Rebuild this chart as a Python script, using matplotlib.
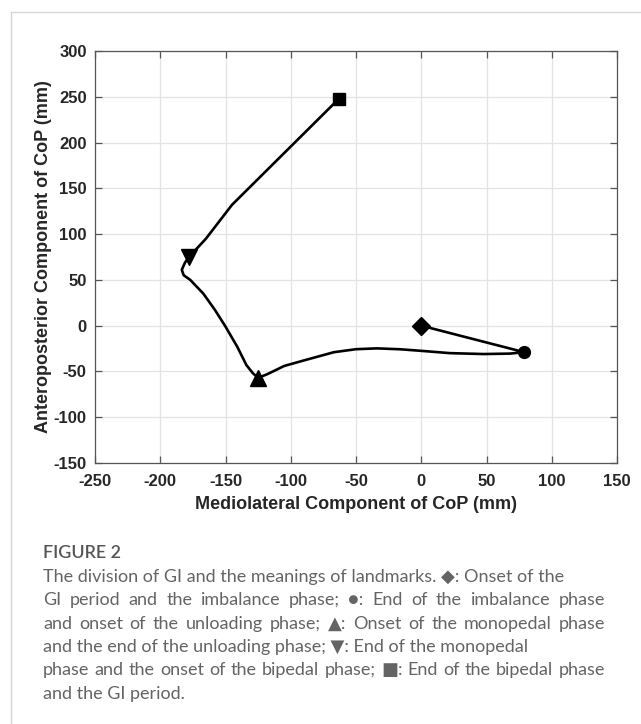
import matplotlib
matplotlib.use("Agg")
import matplotlib.pyplot as plt
from matplotlib.lines import Line2D

# CoP trajectory (mm)
ml = [0, 79, 68, 48, 22, 0, -16, -34, -50, -67, -90, -105, -118, -125,
      -129, -134, -141, -150, -158, -167, -177, -182, -183.5, -181, -178,
      -165, -145, -63]
ap = [0, -29, -30.5, -31, -30, -27.5, -25.8, -24.8, -25.7, -29, -38, -44, -53, -57,
      -52, -43, -23, -1, 17, 35, 50, 55, 61, 69, 75,
      95, 132, 248]

# landmarks: index into the trajectory, marker
landmarks = [(0, 'D'), (1, 'o'), (13, '^'), (24, 'v'), (27, 's')]
msizes = {'D': 9, 'o': 8.5, '^': 11, 'v': 11, 's': 8}

xticks = list(range(-250, 151, 50))
yticks = list(range(-150, 301, 50))

caption_title = "FIGURE 2"
caption_lines = [
    "The division of GI and the meanings of landmarks. \u25c6: Onset of the",
    "GI period and the imbalance phase; \u25cf: End of the imbalance phase",
    "and onset of the unloading phase; \u25b2: Onset of the monopedal phase",
    "and the end of the unloading phase; \u25bc: End of the monopedal",
    "phase and the onset of the bipedal phase; \u25a0: End of the bipedal phase",
    "and the GI period.",
]
justified = [False, True, True, False, True, False]

plt.rcParams['font.family'] = ['Liberation Sans']
plt.rcParams['axes.unicode_minus'] = False

fig = plt.figure(figsize=(6.41, 7.24), dpi=100)
ax = fig.add_axes([95/641, 1-463/724, 522/641, 412/724])

ax.plot(ml, ap, color='black', lw=1.9, solid_joinstyle='round', solid_capstyle='round', zorder=3)
for i, m in landmarks:
    ax.plot(ml[i], ap[i], marker=m, color='black', ms=msizes[m], ls='none', zorder=4)

ax.set_xlim(-250, 150)
ax.set_ylim(-150, 300)
ax.set_xticks(xticks)
ax.set_yticks(yticks)
ax.set_xticklabels([str(t) for t in xticks], fontweight='bold', fontsize=12)
ax.set_yticklabels([str(t) for t in yticks], fontweight='bold', fontsize=12)
ax.grid(True, color='#e3e3e3', lw=0.9)
ax.set_axisbelow(True)
ax.tick_params(direction='in', top=True, right=True, length=5, width=0.9, color='#555555',
               labelcolor='#262626')
ax.tick_params(axis='x', pad=8)
ax.tick_params(axis='y', pad=6)
for s in ax.spines.values():
    s.set_color('#555555')
    s.set_linewidth(0.9)

ax.set_xlabel("Mediolateral Component of CoP (mm)", fontsize=13, fontweight='bold',
              color='#262626', labelpad=5)
ax.set_ylabel("Anteroposterior Component of CoP (mm)", fontsize=13, fontweight='bold',
              color='#262626', labelpad=1)

# frame around the figure panel (top and left edges show)
fig.add_artist(Line2D([11/641, 11/641], [0, 1-12/724], transform=fig.transFigure,
                      color='#d6d6d6', lw=1))
fig.add_artist(Line2D([11/641, 1], [1-12/724, 1-12/724], transform=fig.transFigure,
                      color='#d6d6d6', lw=1))

fam = ['Lato', 'DejaVu Sans']
cap_size = 13
cap_color = '#646464'
x0, x1 = 43, 605
fig.text(x0/641, 1-553/724, caption_title, fontsize=cap_size, color='#555555', family=fam,
         fontweight='semibold', va='center')

renderer = fig.canvas.get_renderer()
for k, line in enumerate(caption_lines):
    y = 1-(577 + 23.3*k)/724
    if not justified[k]:
        fig.text(x0/641, y, line, fontsize=cap_size, color=cap_color, family=fam,
                 va='center')
        continue
    # justified line: spread the words to the right margin
    words = line.split(' ')
    arts = [fig.text(0, y, w, fontsize=cap_size, color=cap_color, family=fam,
                     va='center') for w in words]
    widths = [a.get_window_extent(renderer).width for a in arts]
    gap = (x1 - x0 - sum(widths)) / (len(words) - 1)
    xp = x0
    for a, w in zip(arts, widths):
        a.set_x(xp/641)
        xp += w + gap

fig.savefig("out.png", dpi=100)
